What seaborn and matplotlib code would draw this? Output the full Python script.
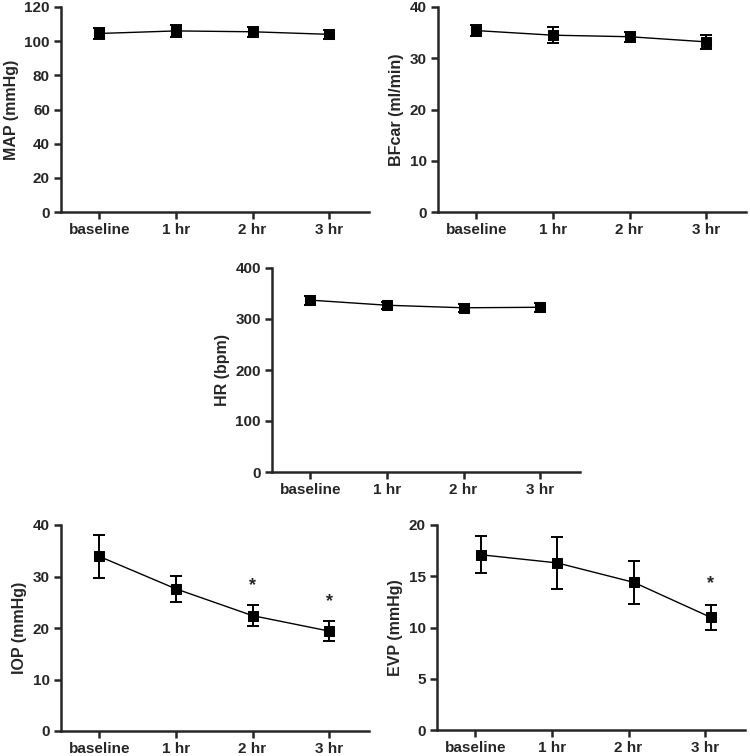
import matplotlib
matplotlib.use("Agg")
import matplotlib.pyplot as plt
import seaborn as sns
import numpy as np

sns.set_style("ticks")
plt.rcParams['font.family'] = ['Liberation Sans', 'DejaVu Sans']
plt.rcParams['font.weight'] = 'bold'

# time points
timepoints = ['baseline', '1 hr', '2 hr', '3 hr']

# mean values and error bars
map_mean = [104.5, 106.0, 105.5, 104.0]
map_err = [3.0, 3.5, 2.8, 2.5]

bfcar_mean = [35.4, 34.5, 34.2, 33.2]
bfcar_err = [1.0, 1.6, 1.0, 1.3]

hr_mean = [337, 327, 322, 323]
hr_err = [9, 7, 8, 9]

iop_mean = [33.9, 27.6, 22.4, 19.4]
iop_err = [4.1, 2.5, 2.0, 1.9]
iop_star = [None, None, 28.2, 25.2]

evp_mean = [17.1, 16.3, 14.4, 11.0]
evp_err = [1.8, 2.55, 2.1, 1.2]
evp_star = [None, None, None, 14.3]

fig = plt.figure(figsize=(7.5, 7.56), dpi=100)


def panel(rect, mean, err, ylabel, ymax, ystep, stars=None, shift=0.0):
    ax = fig.add_axes(rect)
    x = np.arange(len(timepoints)) + shift
    sns.lineplot(x=x, y=mean, ax=ax, color='black', linewidth=1.0,
                 marker='s', markersize=7, markeredgecolor='black')
    ax.errorbar(x, mean, yerr=err, fmt='none', ecolor='black',
                elinewidth=1.4, capsize=4, capthick=1.4)
    if stars is not None:
        for xi, s in zip(x, stars):
            if s is not None:
                ax.text(xi, s, '*', ha='center', va='center',
                        fontsize=13, fontweight='bold')
    ax.set_xlim(-0.5, 3.52)
    ax.set_ylim(0, ymax)
    ax.set_yticks(np.arange(0, ymax + 1, ystep))
    ax.set_xticks(range(len(timepoints)))
    ax.set_xticklabels(timepoints)
    ax.set_ylabel(ylabel, fontsize=11.5, fontweight='bold', labelpad=4)
    ax.tick_params(axis='both', labelsize=11, width=1.8, length=5, pad=3)
    for lab in ax.get_xticklabels() + ax.get_yticklabels():
        lab.set_fontweight('bold')
    for sp in ['left', 'bottom']:
        ax.spines[sp].set_linewidth(1.8)
    sns.despine(ax=ax)
    return ax


W, H = 750, 756


def rect(left, top, right, bottom):
    return [left / W, 1 - bottom / H, (right - left) / W, (bottom - top) / H]


panel(rect(61, 7, 369, 212), map_mean, map_err, 'MAP (mmHg)', 120, 20)
panel(rect(438, 7, 746, 212), bfcar_mean, bfcar_err, 'BFcar (ml/min)', 40, 10)
panel(rect(272, 268, 580, 472), hr_mean, hr_err, 'HR (bpm)', 400, 100)
panel(rect(61, 525, 369, 731), iop_mean, iop_err, 'IOP (mmHg)', 40, 10, iop_star)
panel(rect(437, 525, 745, 730), evp_mean, evp_err, 'EVP (mmHg)', 20, 5, evp_star, shift=0.07)

plt.savefig('out.png', dpi=100)
